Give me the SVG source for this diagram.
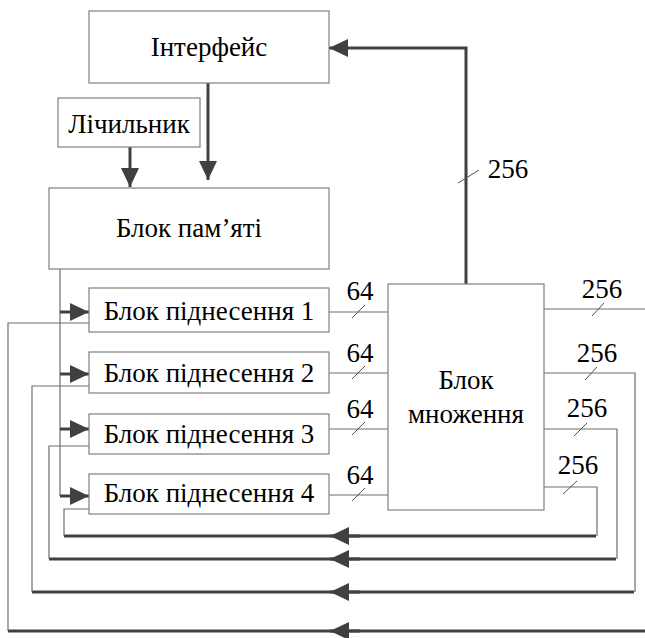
<svg xmlns="http://www.w3.org/2000/svg" width="645" height="638" viewBox="0 0 645 638">
<style>
.box{fill:#fff;stroke:#808080;stroke-width:1.2}
.t{font-family:"Liberation Serif","Times New Roman",serif;font-size:27px;fill:#000;text-anchor:middle}
.thin{fill:none;stroke:#6e6e6e;stroke-width:1.2}
.thick{fill:none;stroke:#404040;stroke-width:3}
.tick{stroke:#505050;stroke-width:1}
</style>
<defs>
<marker id="ah" markerUnits="userSpaceOnUse" markerWidth="20" markerHeight="20" viewBox="0 0 20 20" refX="19" refY="9" orient="auto">
<path d="M0,0 L19,9 L0,18 z" fill="#404040"/>
</marker>
</defs>
<g id="connectors">
<path class="thick" d="M208,83 V180" marker-end="url(#ah)"/>
<path class="thick" d="M130,147 V187" marker-end="url(#ah)"/>
<path class="thin" d="M60,269 V496"/>
<path class="thick" d="M60,312 H89" marker-end="url(#ah)"/>
<path class="thick" d="M60,374 H89" marker-end="url(#ah)"/>
<path class="thick" d="M60,429 H89" marker-end="url(#ah)"/>
<path class="thick" d="M60,496 H89" marker-end="url(#ah)"/>
<path class="thin" d="M329,312 H388"/>
<path class="thin" d="M329,373 H388"/>
<path class="thin" d="M329,429 H388"/>
<path class="thin" d="M329,495 H388"/>
<line class="tick" x1="352" y1="318" x2="365" y2="305"/>
<line class="tick" x1="352" y1="379" x2="365" y2="366"/>
<line class="tick" x1="352" y1="435" x2="365" y2="422"/>
<line class="tick" x1="352" y1="501" x2="365" y2="488"/>
<text class="t" x="360" y="300">64</text>
<text class="t" x="360" y="362">64</text>
<text class="t" x="360" y="418">64</text>
<text class="t" x="360" y="484">64</text>
<path class="thick" d="M466,284 V48 H329" marker-end="url(#ah)"/>
<line class="tick" x1="458" y1="183" x2="479" y2="170"/>
<text class="t" x="508" y="178">256</text>
<path class="thin" d="M544,309 H645"/>
<path class="thin" d="M544,373 H635 V592"/>
<path class="thin" d="M544,429 H617 V559"/>
<path class="thin" d="M544,487 H597 V536"/>
<line class="tick" x1="592" y1="316" x2="604" y2="303"/>
<line class="tick" x1="585" y1="380" x2="597" y2="367"/>
<line class="tick" x1="574" y1="436" x2="587" y2="423"/>
<line class="tick" x1="563" y1="494" x2="577" y2="481"/>
<text class="t" x="602" y="298">256</text>
<text class="t" x="597" y="362">256</text>
<text class="t" x="587" y="417">256</text>
<text class="t" x="578" y="474">256</text>
<path class="thick" d="M596,536 H64"/>
<path class="thick" d="M616,559 H49"/>
<path class="thick" d="M634,592 H32"/>
<path class="thick" d="M645,631 H8"/>
<path class="thick" d="M360,536 H330" marker-end="url(#ah)"/>
<path class="thick" d="M360,559 H330" marker-end="url(#ah)"/>
<path class="thick" d="M360,592 H330" marker-end="url(#ah)"/>
<path class="thick" d="M360,631 H330" marker-end="url(#ah)"/>
<path class="thin" d="M89,323 H8 V631"/>
<path class="thin" d="M89,386 H32 V592"/>
<path class="thin" d="M89,446 H49 V559"/>
<path class="thin" d="M89,509 H64 V536"/>
</g>
<g id="interface"><rect class="box" x="89" y="11" width="240" height="72"/><text class="t" x="209" y="56">Інтерфейс</text></g>
<g id="counter"><rect class="box" x="58" y="98" width="142" height="49"/><text class="t" x="129" y="133">Лічильник</text></g>
<g id="memory"><rect class="box" x="49" y="188" width="280" height="81"/><text class="t" x="189" y="237">Блок пам’яті</text></g>
<g id="pow1"><rect class="box" x="89" y="288" width="240" height="44"/><text class="t" x="209" y="320">Блок піднесення 1</text></g>
<g id="pow2"><rect class="box" x="89" y="352" width="240" height="41"/><text class="t" x="209" y="382">Блок піднесення 2</text></g>
<g id="pow3"><rect class="box" x="89" y="414" width="240" height="40"/><text class="t" x="209" y="443">Блок піднесення 3</text></g>
<g id="pow4"><rect class="box" x="89" y="474" width="240" height="40"/><text class="t" x="209" y="502">Блок піднесення 4</text></g>
<g id="mult"><rect class="box" x="388" y="284" width="156" height="226"/><text class="t" x="466" y="389">Блок</text><text class="t" x="466" y="423">множення</text></g>
</svg>
